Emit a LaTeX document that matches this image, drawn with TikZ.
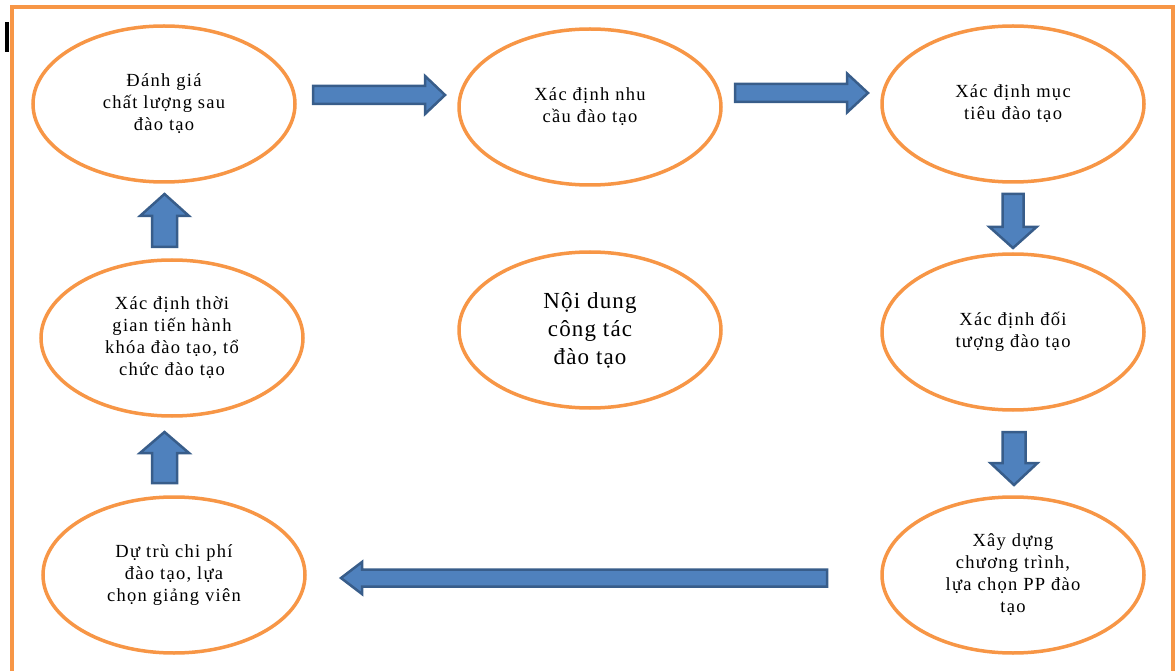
\documentclass[tikz,border=0pt]{standalone}
\usepackage{fontspec}
\setmainfont{Liberation Serif}
\newfontfamily\lblfont[LetterSpace=7]{Liberation Serif}
\newfontfamily\ctrfont[LetterSpace=5]{Liberation Serif}
\usetikzlibrary{shapes.geometric}
\definecolor{frameorange}{RGB}{247,150,70}
\definecolor{arrowfill}{RGB}{79,129,189}
\definecolor{arrowedge}{RGB}{56,93,138}
\tikzset{
  oval/.style={ellipse, draw=frameorange, line width=3.5pt, fill=white,
    minimum width=262pt, minimum height=156pt, inner sep=0pt},
  lbl/.style={align=center, inner sep=0pt, font=\lblfont\fontsize{18.5}{22}\selectfont},
  ctr/.style={align=center, inner sep=0pt, font=\ctrfont\fontsize{23}{28}\selectfont},
  blockarrow/.style={fill=arrowfill, draw=arrowedge, line width=2.5pt, line join=miter}
}
% #1 tail coordinate name, #2 length, #3 shaft half width, #4 head half width, #5 head length, #6 rotation
\newcommand{\BArrow}[6]{%
  \draw[blockarrow, shift={(#1)}, rotate=#6]
    (0,-#3) -- ({#2-#5},-#3) -- ({#2-#5},-#4) -- (#2,0) -- ({#2-#5},#4) -- ({#2-#5},#3) -- (0,#3) -- cycle;}
\begin{document}
\begin{tikzpicture}[x=1pt,y=-1pt]
\useasboundingbox (0,0) rectangle (1176,671);
% frame
\draw[frameorange, line width=4pt] (12,671) -- (12,7) -- (1173,7) -- (1173,671);
\fill[black] (5,22) rectangle (8.5,52);
% ellipses
\node[oval] (e1) at (164,104) {};
\node[lbl] (t1) at (e1.center) {Đánh giá\\chất lượng sau\\đào tạo};
\node[oval] (e2) at (590,107) {};
\node[lbl] (t2) at (e2.center) {Xác định nhu\\cầu đào tạo};
\node[oval] (e3) at (1013,104) {};
\node[lbl] (t3) at (e3.center) {Xác định mục\\tiêu đào tạo};
\node[oval] (e4) at (1013,332) {};
\node[lbl] (t4) at (e4.center) {Xác định đối\\tượng đào tạo};
\node[oval] (e5) at (1013,575) {};
\node[lbl] (t5) at (e5.center) {Xây dựng\\chương trình,\\lựa chọn PP đào\\tạo};
\node[oval] (e6) at (174,575) {};
\node[lbl] (t6) at (e6.center) {Dự trù chi phí\\đào tạo, lựa\\chọn giảng viên};
\node[oval] (e7) at (172,338) {};
\node[lbl] (t7) at (e7.center) {Xác định thời\\gian tiến hành\\khóa đào tạo, tổ\\chức đào tạo};
\node[oval] (ec) at (590,330) {};
\node[ctr] (tc) at (ec.center) {Nội dung\\công tác\\đào tạo};
% arrows
\coordinate (a1) at (313,95);
\coordinate (a2) at (735,93);
\coordinate (a3) at (1013,194);
\coordinate (a4) at (1014,432);
\coordinate (a5) at (827,578);
\coordinate (a6) at (164.5,483);
\coordinate (a7) at (164.5,247);
\BArrow{a1}{132}{9}{19}{20}{0}
\BArrow{a2}{133}{9}{19.5}{21}{0}
\BArrow{a3}{54}{10.5}{23.5}{21}{-90}
\BArrow{a4}{53}{11.5}{23.5}{22}{-90}
\BArrow{a5}{486}{8.5}{16}{21}{180}
\BArrow{a6}{51}{12.5}{24.5}{21}{90}
\BArrow{a7}{53}{12.5}{24.5}{22}{90}
\end{tikzpicture}
\end{document}
